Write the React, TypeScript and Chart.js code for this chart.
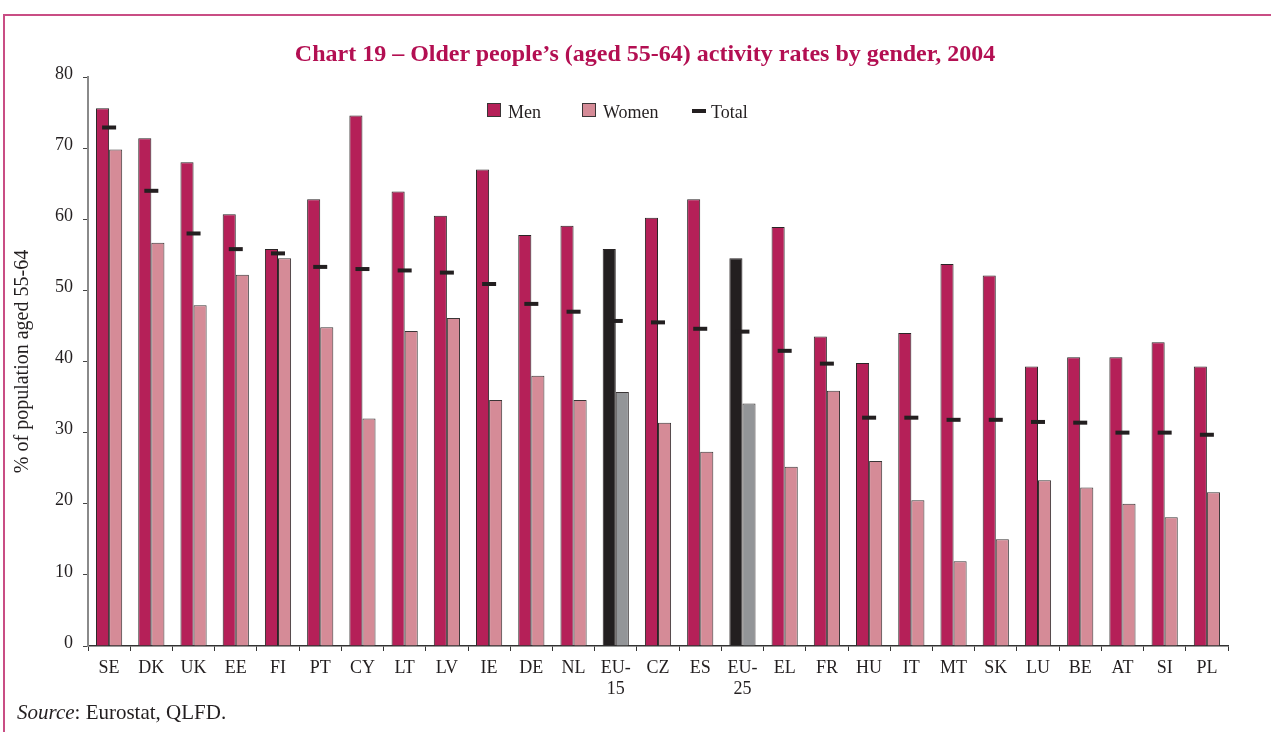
import React, { useEffect, useRef } from 'react';
import { Chart, registerables } from 'chart.js';

Chart.register(...registerables);

const countries = ['SE', 'DK', 'UK', 'EE', 'FI', 'PT', 'CY', 'LT', 'LV', 'IE', 'DE', 'NL', 'EU-15', 'CZ', 'ES', 'EU-25', 'EL', 'FR', 'HU', 'IT', 'MT', 'SK', 'LU', 'BE', 'AT', 'SI', 'PL'];
const men = [75.6, 71.4, 68.0, 60.7, 55.8, 62.8, 74.6, 63.9, 60.5, 67.0, 57.8, 59.1, 55.8, 60.2, 62.8, 54.5, 58.9, 43.5, 39.8, 44.0, 53.7, 52.1, 39.3, 40.6, 40.6, 42.7, 39.3];
const women = [69.8, 56.7, 47.9, 52.2, 54.5, 44.8, 32.0, 44.3, 46.1, 34.6, 38.0, 34.6, 35.7, 31.4, 27.3, 34.1, 25.2, 35.9, 26.0, 20.5, 11.9, 15.0, 23.3, 22.3, 20.0, 18.1, 21.6];
const total = [72.9, 64.0, 58.0, 55.8, 55.2, 53.3, 53.0, 52.8, 52.5, 50.9, 48.1, 47.0, 45.7, 45.5, 44.6, 44.2, 41.5, 39.7, 32.1, 32.1, 31.8, 31.8, 31.5, 31.4, 30.0, 30.0, 29.7];
const yTicks = [0, 10, 20, 30, 40, 50, 60, 70, 80];

const MEN = '#b52058';
const WOMEN = '#d58b97';
const EU_MEN = '#231f20';
const EU_WOMEN = '#939598';
const FONT = '"Liberation Serif", "Times New Roman", serif';

export default function App() {
  const ref = useRef<HTMLCanvasElement | null>(null);

  useEffect(() => {
    document.body.style.margin = '0';
    document.body.style.overflow = 'hidden';
    const isEU = (c: string) => c.startsWith('EU-');
    const labels = countries.map((c) => (isEU(c) ? [c.slice(0, 3), c.slice(3)] : c));
    const chart = new Chart(ref.current as HTMLCanvasElement, {
      type: 'bar',
      data: {
        labels,
        datasets: [
          {
            type: 'bar',
            label: 'Men',
            data: men,
            backgroundColor: countries.map((c) => (isEU(c) ? EU_MEN : MEN)),
            borderColor: '#2a2526',
            borderWidth: 1,
            order: 1,
          },
          {
            type: 'bar',
            label: 'Women',
            data: women,
            backgroundColor: countries.map((c) => (isEU(c) ? EU_WOMEN : WOMEN)),
            borderColor: '#3a3536',
            borderWidth: 1,
            order: 1,
          },
          {
            type: 'line',
            label: 'Total',
            data: total,
            showLine: false,
            pointStyle: 'line',
            pointRadius: 7,
            pointHoverRadius: 7,
            pointBorderWidth: 4,
            pointBorderColor: '#231f20',
            pointBackgroundColor: '#231f20',
            borderColor: '#231f20',
            order: 0,
          } as any,
        ],
      },
      options: {
        animation: false,
        responsive: true,
        maintainAspectRatio: false,
        layout: { padding: { top: 77, right: 43, left: 0, bottom: 0 } },
        datasets: { bar: { categoryPercentage: 0.62, barPercentage: 1 } },
        plugins: {
          legend: { display: false },
          title: { display: false },
          tooltip: { enabled: false },
        },
        scales: {
          x: {
            grid: { display: true, drawOnChartArea: false, drawTicks: true, tickLength: 5, color: '#333', lineWidth: 1, offset: true },
            border: { display: true, color: '#333', width: 1.5 },
            ticks: { color: '#231f20', font: { family: FONT, size: 18 }, padding: 6, maxRotation: 0, autoSkip: false },
            afterFit: (s: any) => { s.height = 86; },
          },
          y: {
            min: 0,
            max: 80,
            afterBuildTicks: (s: any) => { s.ticks = yTicks.map((v) => ({ value: v })); },
            grid: { display: true, drawOnChartArea: false, drawTicks: true, tickLength: 5, color: '#444', lineWidth: 1 },
            border: { display: true, color: '#8a8a8a', width: 2 },
            ticks: { color: '#231f20', font: { family: FONT, size: 18 }, padding: 10, labelOffset: -3 },
            title: { display: true, text: '% of population aged 55-64', color: '#231f20', font: { family: FONT, size: 20 }, padding: { top: 11, bottom: 0 } },
            afterFit: (s: any) => { s.width = 88; },
          },
        },
      },
    });
    return () => chart.destroy();
  }, []);

  const legendText: React.CSSProperties = { position: 'absolute', top: 103, fontFamily: FONT, fontSize: 18, lineHeight: '18px', color: '#231f20', whiteSpace: 'nowrap' };
  const box = (left: number, color: string): React.CSSProperties => ({ position: 'absolute', left, top: 103, width: 12, height: 12, background: color, border: '1px solid #3a3536' });

  return (
    <div style={{ position: 'relative', width: 1271, height: 732, overflow: 'hidden', background: '#fff' }}>
      <div style={{ position: 'absolute', left: 3, top: 14, width: 1400, height: 900, border: '2px solid #c94d84', boxSizing: 'border-box' }} />
      <div style={{ position: 'absolute', left: 0, top: 0, width: 1271, height: 732 }}>
        <canvas ref={ref} />
      </div>
      <div style={{ position: 'absolute', left: 645, top: 41, transform: 'translateX(-50%)', whiteSpace: 'nowrap', fontFamily: FONT, fontWeight: 'bold', fontSize: 24, lineHeight: '24px', color: '#b30f52' }}>
        Chart 19 – Older people’s (aged 55-64) activity rates by gender, 2004
      </div>
      <div style={box(487, MEN)} />
      <div style={{ ...legendText, left: 508 }}>Men</div>
      <div style={box(582, WOMEN)} />
      <div style={{ ...legendText, left: 603 }}>Women</div>
      <div style={{ position: 'absolute', left: 692, top: 109, width: 14, height: 4, background: '#231f20' }} />
      <div style={{ ...legendText, left: 711 }}>Total</div>
      <div style={{ position: 'absolute', left: 17, top: 702, fontFamily: FONT, fontSize: 21, lineHeight: '21px', color: '#231f20', whiteSpace: 'nowrap' }}>
        <i>Source</i>: Eurostat, QLFD.
      </div>
    </div>
  );
}
